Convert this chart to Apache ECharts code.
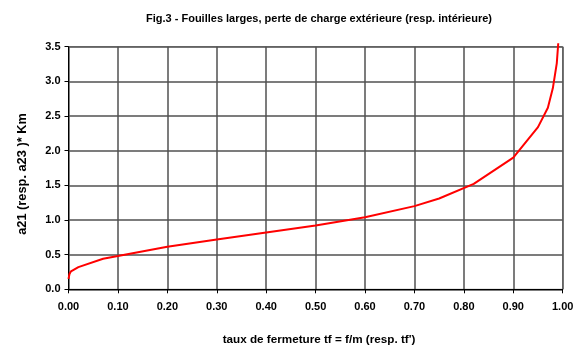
<!DOCTYPE html>
<html>
<head>
<meta charset="utf-8">
<script src="https://cdn.jsdelivr.net/npm/echarts@6/dist/echarts.min.js"></script>
<style>html,body{margin:0;padding:0;background:#fff}#c{width:583px;height:347px}</style>
</head>
<body>
<div id="c"></div>
<script>
var xValues = [0, 0.002, 0.005, 0.02, 0.07, 0.1, 0.2, 0.3, 0.4, 0.5, 0.6, 0.7, 0.75, 0.82, 0.9, 0.95, 0.97, 0.98, 0.988, 0.991];
var yValues = [0.15, 0.22, 0.26, 0.32, 0.44, 0.48, 0.615, 0.72, 0.82, 0.92, 1.04, 1.2, 1.31, 1.52, 1.9, 2.34, 2.62, 2.9, 3.26, 3.55];
var titleText = 'Fig.3 - Fouilles larges, perte de charge extérieure (resp. intérieure)';
var xName = 'taux de fermeture tf = f/m (resp. tf\')';
var yName = 'a21 (resp. a23 )* Km';

var pts = xValues.map(function (x, i) { return [x, yValues[i]]; });
var font = 'Liberation Sans, Arial, sans-serif';
var chart = echarts.init(document.getElementById('c'));
chart.setOption({
  animation: false,
  title: [{
    text: titleText, left: 314, top: 8, textAlign: 'center',
    textStyle: { fontFamily: font, fontSize: 11, fontWeight: 'bold', color: '#000' }
  }, {
    text: xName, left: 314, top: 329, textAlign: 'center',
    textStyle: { fontFamily: font, fontSize: 11.7, fontWeight: 'bold', color: '#000' }
  }],
  grid: { left: 68.5, right: 20.3, top: 46.7, bottom: 57.7, show: true, borderColor: '#888', borderWidth: 1,
    containLabel: false, outerBoundsMode: 'none' },
  xAxis: {
    type: 'value', min: 0, max: 1, interval: 0.1,
    axisLine: { show: true, lineStyle: { color: '#000', width: 1 } },
    axisTick: { show: true, length: 4, lineStyle: { color: '#000' } },
    axisLabel: { fontFamily: font, fontSize: 11, fontWeight: 'bold', color: '#000', margin: 12,
      formatter: function (v) { return v.toFixed(2); } },
    splitLine: { show: true, lineStyle: { color: '#505050', width: 1.5 } }
  },
  yAxis: {
    type: 'value', min: 0, max: 3.5, interval: 0.5,
    name: yName, nameLocation: 'middle', nameGap: 40, nameMoveOverlap: false,
    nameTextStyle: { fontFamily: font, fontSize: 12.8, fontWeight: 'bold', color: '#000', padding: [0, 12, 0, 0] },
    axisLine: { show: true, lineStyle: { color: '#000', width: 1 } },
    axisTick: { show: true, length: 4, lineStyle: { color: '#000' } },
    axisLabel: { fontFamily: font, fontSize: 11, fontWeight: 'bold', color: '#000', margin: 8,
      formatter: function (v) { return v.toFixed(1); } },
    splitLine: { show: true, lineStyle: { color: '#505050', width: 1.5 } }
  },
  series: [{
    type: 'line', data: pts, showSymbol: false, clip: false,
    lineStyle: { color: '#ff0000', width: 2 }
  }]
});
</script>
</body>
</html>
